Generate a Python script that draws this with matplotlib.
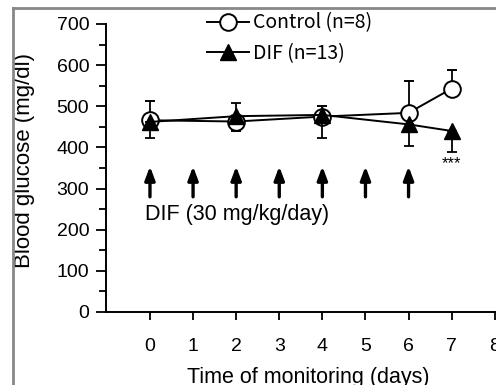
import matplotlib
matplotlib.use('Agg')
import matplotlib.pyplot as plt
from matplotlib.lines import Line2D

# data
days = [0, 2, 4, 6, 7]
control = [466, 463, 475, 484, 543]
control_err_up = [47, 0, 26, 77, 46]
control_err_dn = [0, 23, 0, 0, 0]
dif = [462, 476, 479, 456, 440]
dif_err_up = [0, 32, 0, 0, 0]
dif_err_dn = [40, 0, 56, 52, 50]
arrow_days = [0, 1, 2, 3, 4, 5, 6]
arrow_bottom = 280
arrow_top = 354
x_ticks = [0, 1, 2, 3, 4, 5, 6, 7, 8]

plt.rcParams['font.family'] = ['Liberation Sans', 'DejaVu Sans']

W, H = 496, 385
fig = plt.figure(figsize=(W / 100, H / 100), dpi=100)

# axes placed in pixel terms
x0, x1 = -1.02, 8.05
px_per_day = 43.1
left = 106
ax_w = (x1 - x0) * px_per_day
ax = fig.add_axes([left / W, 1 - 312 / H, ax_w / W, (312 - 24) / H])

ax.errorbar(days, control, yerr=[control_err_dn, control_err_up], color='k', lw=1.4,
            marker='o', ms=12, mfc='white', mec='k', mew=1.4, capsize=3.5, elinewidth=1.3,
            capthick=1.3, label='Control (n=8)', zorder=3)
ax.errorbar(days, dif, yerr=[dif_err_dn, dif_err_up], color='k', lw=1.4,
            marker='^', ms=11, mfc='k', mec='k', capsize=3.5, elinewidth=1.3,
            capthick=1.3, label='DIF (n=13)', zorder=4)

for d in arrow_days:
    ax.annotate('', xy=(d, arrow_top), xytext=(d, arrow_bottom),
                arrowprops=dict(arrowstyle='-|>,head_width=0.3,head_length=0.8',
                                lw=2.4, color='k', shrinkA=0, shrinkB=0))

ax.text(-0.12, 236, 'DIF (30 mg/kg/day)', fontsize=15.5, va='center', ha='left')
ax.text(7, 360, '***', fontsize=12, va='center', ha='center')

ax.set_xlim(x0, x1)
ax.set_ylim(0, 700)
ax.set_xticks(x_ticks)
ax.set_yticks(range(0, 701, 100))
ax.set_yticks(range(50, 700, 100), minor=True)
ax.spines['top'].set_visible(False)
ax.spines['right'].set_visible(False)
for s in ('left', 'bottom'):
    ax.spines[s].set_linewidth(1.4)
ax.tick_params(axis='x', direction='out', length=6, width=1.3, pad=13, labelsize=14)
ax.tick_params(axis='y', which='major', direction='out', length=7, width=1.3, pad=5, labelsize=14)
ax.tick_params(axis='y', which='minor', direction='out', length=5, width=1.3)

ax.set_ylabel('Blood glucose (mg/dl)', fontsize=16)
ax.yaxis.set_label_coords((35 - left) / ax_w, (312 - 161) / 288)
ax.set_xlabel('Time of monitoring (days)', fontsize=15.5)
ax.xaxis.set_label_coords((308 - left) / ax_w, -0.19)

handles = [Line2D([], [], color='k', lw=1.4, marker='o', ms=12, mfc='white', mew=1.4),
           Line2D([], [], color='k', lw=1.4, marker='^', ms=11, mfc='k')]
ax.legend(handles, ['Control (n=8)', 'DIF (n=13)'], loc='upper left',
          bbox_to_anchor=(189 / W, 1 + 5 / H), bbox_transform=fig.transFigure,
          frameon=False, handlelength=2.2, handletextpad=0.2, labelspacing=0.5,
          prop={'family': ['Noto Sans CJK JP', 'DejaVu Sans'], 'size': 14})

# border of the surrounding panel
fig.add_artist(Line2D([13 / W, 13 / W], [0, 1 - 8 / H], color='#888888', lw=2))
fig.add_artist(Line2D([13 / W, 1], [1 - 8 / H, 1 - 8 / H], color='#888888', lw=2))

fig.savefig('out.png', dpi=100)
